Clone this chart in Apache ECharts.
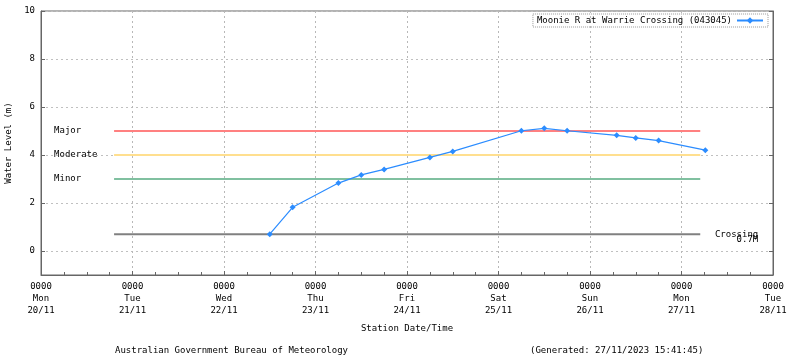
<!DOCTYPE html>
<html>
<head>
<meta charset="utf-8">
<script src="https://cdn.jsdelivr.net/npm/echarts@6/dist/echarts.min.js"></script>
<style>
html,body{margin:0;padding:0;background:#fff;}
#chart{width:800px;height:358px;}
</style>
</head>
<body>
<div id="chart"></div>
<script>
// ---- data ----
const seriesName = 'Moonie R at Warrie Crossing (043045)';
const startTime = '2023-11-20T00:00';
const obsTimes = [
  '2023-11-22T12:00', '2023-11-22T18:00', '2023-11-23T06:00', '2023-11-23T12:00',
  '2023-11-23T18:00', '2023-11-24T06:00', '2023-11-24T12:00', '2023-11-25T06:00',
  '2023-11-25T12:00', '2023-11-25T18:00', '2023-11-26T07:00', '2023-11-26T12:00',
  '2023-11-26T18:00', '2023-11-27T06:15'
];
const obsLevels = [0.70, 1.82, 2.83, 3.17, 3.40, 3.90, 4.15, 5.01, 5.11, 5.01, 4.82, 4.71, 4.60, 4.20];
const thresholdNames = ['Major', 'Moderate', 'Minor'];
const thresholdValues = [5, 4, 3];
const thresholdColors = ['#ff8080', '#ffdf8f', '#80c0a0'];
const crossingName = 'Crossing';
const crossingValue = 0.7;
const crossingLabel = '0.7M';
const thresholdStart = '2023-11-20T19:10';
const thresholdEnd = '2023-11-27T04:55';
const tickTimeLabel = '0000';
const tickDays = ['Mon', 'Tue', 'Wed', 'Thu', 'Fri', 'Sat', 'Sun', 'Mon', 'Tue'];
const tickDates = ['20/11', '21/11', '22/11', '23/11', '24/11', '25/11', '26/11', '27/11', '28/11'];
const xAxisName = 'Station Date/Time';
const yAxisName = 'Water Level (m)';
const footerLeft = 'Australian Government Bureau of Meteorology';
const footerRight = '(Generated: 27/11/2023 15:41:45)';

// ---- build ----
const FONT = 'DejaVu Sans Mono';
const hrs = t => (Date.parse(t) - Date.parse(startTime)) / 3600000;
const obsData = obsTimes.map((t, i) => [hrs(t), obsLevels[i]]);

const series = [];
thresholdValues.forEach((v, i) => {
  series.push({
    name: thresholdNames[i],
    type: 'line',
    silent: true,
    symbol: 'circle',
    symbolSize: 0,
    showSymbol: true,
    lineStyle: { color: thresholdColors[i], width: 2 },
    itemStyle: { color: thresholdColors[i] },
    data: [
      { value: [hrs(thresholdStart), v], label: {
        show: true, position: 'left', distance: 0, align: 'left', offset: [-60, 0],
        formatter: thresholdNames[i], fontFamily: FONT, fontSize: 9, color: '#000'
      } },
      [hrs(thresholdEnd), v]
    ],
    z: 2
  });
});
series.push({
  name: crossingName,
  type: 'line',
  silent: true,
  symbol: 'circle',
  symbolSize: 0,
  showSymbol: true,
  lineStyle: { color: '#808080', width: 2 },
  itemStyle: { color: '#808080' },
  data: [
    [hrs(thresholdStart), crossingValue],
    { value: [hrs(thresholdEnd), crossingValue], label: {
      show: true, position: 'right', distance: 58, align: 'right', offset: [0, 2.5],
      formatter: '{a|' + crossingName + '}\n{a|' + crossingLabel + '}',
      rich: { a: { fontFamily: FONT, fontSize: 9, color: '#000', lineHeight: 5, align: 'right' } }
    } }
  ],
  z: 2
});
series.push({
  name: seriesName,
  type: 'line',
  symbol: 'diamond',
  symbolSize: 6,
  lineStyle: { color: '#2b8cff', width: 1.2 },
  itemStyle: { color: '#2b8cff' },
  data: obsData,
  z: 5
});

const chart = echarts.init(document.getElementById('chart'), null, { renderer: 'canvas' });
chart.setOption({
  animation: false,
  backgroundColor: '#fff',
  title: [
    { text: footerLeft, left: 115, top: 346, padding: 0, textStyle: { fontFamily: FONT, fontSize: 9, fontWeight: 'normal', color: '#000' } },
    { text: footerRight, left: 530, top: 346, padding: 0, textStyle: { fontFamily: FONT, fontSize: 9, fontWeight: 'normal', color: '#000' } }
  ],
  legend: {
    data: [seriesName],
    right: 32, top: 14,
    align: 'right',
    itemWidth: 26, itemHeight: 8, itemGap: 4,
    padding: [2, 4],
    borderColor: '#999', borderWidth: 1, borderType: 'dotted',
    textStyle: { fontFamily: FONT, fontSize: 9, color: '#000' }
  },
  grid: { left: 41, right: 27, top: 11, bottom: 83, show: true, borderColor: '#666', borderWidth: 1, outerBoundsMode: 'none', containLabel: false },
  xAxis: {
    type: 'value',
    min: 0, max: 192, interval: 24,
    name: xAxisName, nameLocation: 'middle', nameGap: 49,
    nameTextStyle: { fontFamily: FONT, fontSize: 9, color: '#000' },
    axisLine: { onZero: false, lineStyle: { color: '#666' } },
    axisTick: { inside: true, length: 4, lineStyle: { color: '#666' } },
    minorTick: { show: true, splitNumber: 4, length: 3, lineStyle: { color: '#666' } },
    splitLine: { show: true, lineStyle: { color: '#b8b8b8', type: [2, 3] } },
    axisLabel: {
      margin: 6, fontFamily: FONT, fontSize: 9, color: '#000', lineHeight: 12,
      formatter: v => { const i = Math.round(v / 24); return tickTimeLabel + '\n' + tickDays[i] + '\n' + tickDates[i]; }
    }
  },
  yAxis: [{
    type: 'value',
    min: -1, max: 10,
    name: yAxisName, nameLocation: 'middle', nameGap: 27,
    nameTextStyle: { fontFamily: FONT, fontSize: 9, color: '#000' },
    axisLine: { show: true, onZero: false, lineStyle: { color: '#666' } },
    axisTick: { show: true, inside: true, length: 4, lineStyle: { color: '#666' } },
    splitLine: { show: true, lineStyle: { color: '#c0c0c0', type: [2, 3] } },
    axisLabel: { showMinLabel: false, margin: 6, fontFamily: FONT, fontSize: 9, color: '#000' }
  }, {
    type: 'value',
    min: -1, max: 10,
    position: 'right',
    axisLine: { show: true, onZero: false, lineStyle: { color: '#666' } },
    axisTick: { show: true, inside: true, length: 4, lineStyle: { color: '#666' } },
    splitLine: { show: false },
    axisLabel: { show: false }
  }],
  series: series
});
</script>
</body>
</html>
